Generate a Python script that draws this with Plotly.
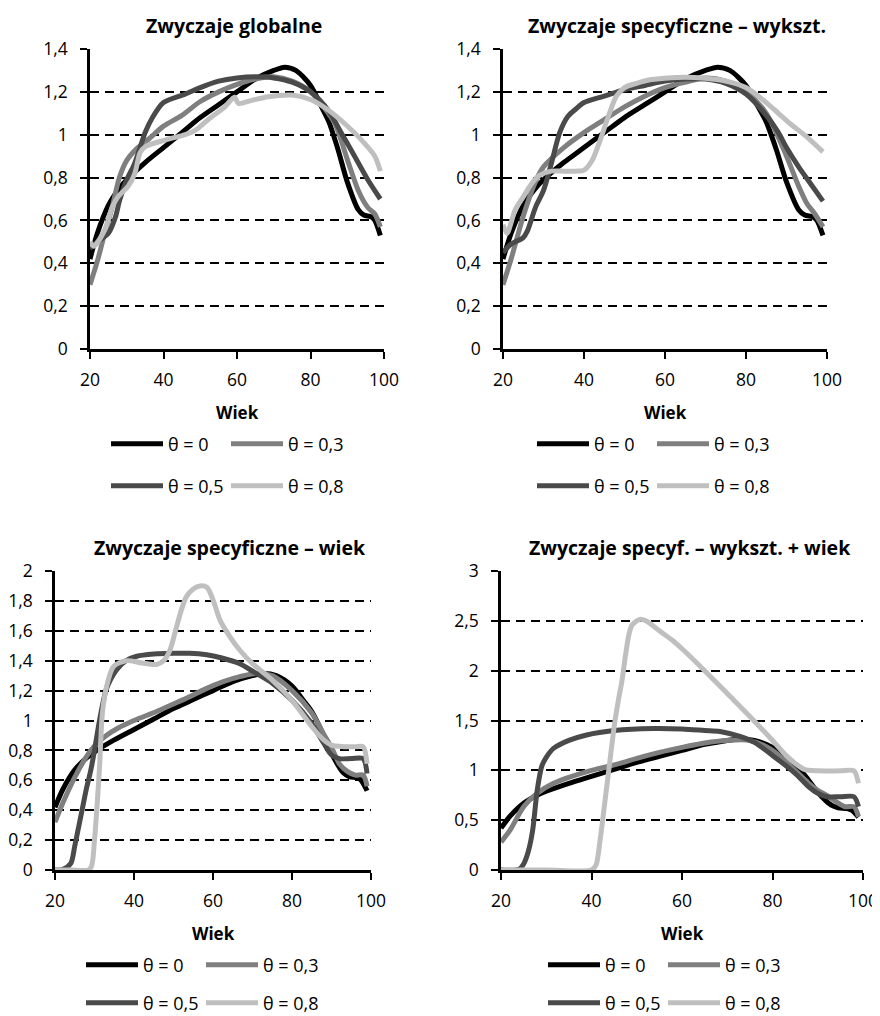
import plotly.graph_objects as go

# ---------------- data ----------------
series_names = ["θ = 0", "θ = 0,3", "θ = 0,5", "θ = 0,8"]
series_colors = ["#000000", "#7f7f7f", "#4a4a4a", "#bfbfbf"]

x_ticks = [20, 40, 60, 80, 100]

# theta = 0 (identical in all panels)
t0_x = [20, 22, 25, 28, 30, 35, 40, 45, 50, 55, 60, 65, 70, 73, 76, 80, 83, 85, 87.5, 90, 93, 94.5, 96.5, 97.5, 99]
t0_y = [0.42, 0.54, 0.67, 0.75, 0.79, 0.87, 0.94, 1.01, 1.08, 1.14, 1.20, 1.26, 1.30, 1.315, 1.30, 1.23, 1.13, 1.06, 0.93, 0.78, 0.65, 0.625, 0.617, 0.60, 0.53]

# Panel 1: Zwyczaje globalne
p1_t3_x = [20, 22, 24, 26, 28, 30, 33, 36, 40, 45, 50, 55, 60, 65, 70, 75, 80, 84, 86.7, 90.3, 93, 95.6, 97.5, 99]
p1_t3_y = [0.30, 0.41, 0.54, 0.66, 0.80, 0.88, 0.94, 0.98, 1.04, 1.09, 1.155, 1.20, 1.235, 1.26, 1.27, 1.25, 1.20, 1.12, 1.05, 0.87, 0.74, 0.66, 0.63, 0.57]
p1_t5_x = [20, 22, 25, 27, 28, 30, 32, 34, 35, 37, 40, 46, 50, 55, 60, 65, 70, 75, 80, 85, 88, 90, 92, 95.6, 99]
p1_t5_y = [0.47, 0.50, 0.54, 0.62, 0.69, 0.79, 0.86, 0.96, 1.01, 1.08, 1.15, 1.19, 1.22, 1.25, 1.265, 1.27, 1.265, 1.245, 1.20, 1.11, 1.02, 0.96, 0.90, 0.79, 0.70]
p1_t8_x = [20, 21, 24, 26, 27.6, 30.4, 32.2, 33.6, 35, 40.4, 45.9, 48.6, 52.1, 56.7, 59.3, 60.4, 64, 68.5, 74.9, 80.3, 84.8, 89.4, 93.9, 97.5, 99]
p1_t8_y = [0.50, 0.48, 0.555, 0.66, 0.71, 0.76, 0.82, 0.915, 0.944, 0.975, 1.00, 1.02, 1.07, 1.13, 1.175, 1.146, 1.16, 1.177, 1.185, 1.162, 1.115, 1.05, 0.975, 0.90, 0.83]

# Panel 2: Zwyczaje specyficzne - wykszt.
p2_t3_x = [20, 22, 25, 28, 30, 35, 40, 45, 50, 55, 60, 65, 70, 75, 80, 85, 90, 93, 95, 97, 99]
p2_t3_y = [0.30, 0.42, 0.62, 0.78, 0.85, 0.94, 1.01, 1.07, 1.13, 1.18, 1.22, 1.245, 1.265, 1.25, 1.20, 1.10, 0.90, 0.76, 0.68, 0.63, 0.57]
p2_t5_x = [20, 22, 25, 26, 28, 30, 32, 34, 36, 38, 40, 45, 50, 55, 60, 65, 70, 75, 80, 85, 88, 90, 93, 96, 99]
p2_t5_y = [0.45, 0.49, 0.52, 0.55, 0.66, 0.74, 0.87, 1.01, 1.085, 1.12, 1.15, 1.18, 1.21, 1.23, 1.25, 1.26, 1.26, 1.24, 1.19, 1.09, 1.01, 0.94, 0.85, 0.77, 0.69]
p2_t8_x = [20, 21, 22, 23, 25, 27, 29, 32, 35, 38, 40, 42, 44, 46, 48, 50, 53, 56, 60, 65, 70, 75, 80, 85, 88, 91, 95, 99]
p2_t8_y = [0.58, 0.54, 0.59, 0.65, 0.71, 0.77, 0.81, 0.83, 0.83, 0.83, 0.835, 0.88, 0.975, 1.085, 1.18, 1.22, 1.24, 1.255, 1.263, 1.268, 1.263, 1.25, 1.22, 1.15, 1.10, 1.05, 0.99, 0.92]

# Panel 3: Zwyczaje specyficzne - wiek
p3_t3_x = [20, 22, 25, 28, 30, 33, 36, 40, 45.7, 50, 54.2, 58, 62.6, 67, 71, 75, 80, 85, 88, 90, 92, 94, 96, 98, 99]
p3_t3_y = [0.32, 0.45, 0.62, 0.76, 0.83, 0.90, 0.95, 1.00, 1.06, 1.11, 1.16, 1.21, 1.26, 1.295, 1.315, 1.30, 1.20, 1.05, 0.91, 0.82, 0.71, 0.66, 0.635, 0.635, 0.56]
p3_t5_x = [20, 22, 24, 25, 26, 27, 28, 29, 30, 31, 32, 33, 35.6, 38, 40.7, 45, 50, 54, 58.4, 62, 66.8, 70, 75, 80, 85, 88, 90, 92, 95, 98, 99]
p3_t5_y = [0.0, 0.005, 0.045, 0.16, 0.29, 0.42, 0.55, 0.66, 0.80, 0.96, 1.10, 1.21, 1.34, 1.40, 1.43, 1.445, 1.45, 1.45, 1.44, 1.42, 1.38, 1.33, 1.25, 1.135, 0.98, 0.85, 0.77, 0.745, 0.745, 0.745, 0.645]
p3_t8_x = [20, 24, 28.5, 29.3, 30, 30.7, 31.3, 32, 33, 34.8, 38, 42, 45.7, 47.5, 49.1, 50.5, 52, 53.3, 55, 56.7, 58.5, 60.1, 61.8, 64.3, 66.8, 70, 75, 80, 85, 88, 90, 93, 96, 98, 99]
p3_t8_y = [0.0, 0.0, 0.0, 0.03, 0.20, 0.45, 0.70, 1.05, 1.22, 1.36, 1.40, 1.385, 1.375, 1.40, 1.47, 1.60, 1.74, 1.83, 1.88, 1.90, 1.89, 1.80, 1.67, 1.56, 1.47, 1.38, 1.27, 1.135, 0.96, 0.87, 0.835, 0.825, 0.825, 0.825, 0.71]

# Panel 4: Zwyczaje specyf. - wykszt. + wiek
p4_t3_x = [20, 22, 25, 28, 31.6, 35, 40, 46.3, 50, 55, 61, 65, 69.9, 75, 80, 85, 88, 90, 92, 94, 96, 98, 99]
p4_t3_y = [0.28, 0.40, 0.635, 0.77, 0.87, 0.93, 1.00, 1.07, 1.12, 1.18, 1.24, 1.275, 1.30, 1.30, 1.20, 1.00, 0.87, 0.80, 0.75, 0.685, 0.635, 0.635, 0.535]
p4_t5_x = [20, 24, 25, 26, 27, 28, 29, 30, 31.6, 35, 38.9, 45, 53.7, 60, 65, 68.4, 72.8, 76, 80, 85, 88, 90, 92, 95, 98, 99]
p4_t5_y = [0.0, 0.007, 0.06, 0.18, 0.40, 0.80, 1.04, 1.13, 1.22, 1.30, 1.355, 1.40, 1.42, 1.415, 1.40, 1.39, 1.34, 1.28, 1.15, 0.97, 0.835, 0.77, 0.735, 0.735, 0.735, 0.635]
p4_t8_x = [20, 30, 40, 41, 41.9, 43, 44, 45.2, 46, 46.7, 47.5, 48.3, 49, 50.7, 52, 55, 58, 60, 65, 70, 75, 80, 83, 85, 87, 90, 95, 98, 99]
p4_t8_y = [0.0, 0.0, 0.0, 0.05, 0.30, 0.70, 1.07, 1.50, 1.72, 1.89, 2.15, 2.37, 2.46, 2.515, 2.50, 2.40, 2.30, 2.22, 2.00, 1.77, 1.54, 1.30, 1.15, 1.07, 1.01, 0.995, 0.995, 0.995, 0.87]

panel_titles = ["Zwyczaje globalne", "Zwyczaje specyficzne – wykszt.",
                "Zwyczaje specyficzne – wiek", "Zwyczaje specyf. – wykszt. + wiek"]
x_title = "Wiek"

p12_yticks = [0, 0.2, 0.4, 0.6, 0.8, 1.0, 1.2, 1.4]
p12_ytext = ["0", "0,2", "0,4", "0,6", "0,8", "1", "1,2", "1,4"]
p3_yticks = [0, 0.2, 0.4, 0.6, 0.8, 1.0, 1.2, 1.4, 1.6, 1.8, 2.0]
p3_ytext = ["0", "0,2", "0,4", "0,6", "0,8", "1", "1,2", "1,4", "1,6", "1,8", "2"]
p4_yticks = [0, 0.5, 1.0, 1.5, 2.0, 2.5, 3.0]
p4_ytext = ["0", "0,5", "1", "1,5", "2", "2,5", "3"]

panels = [
    [(t0_x, t0_y), (p1_t3_x, p1_t3_y), (p1_t5_x, p1_t5_y), (p1_t8_x, p1_t8_y)],
    [(t0_x, t0_y), (p2_t3_x, p2_t3_y), (p2_t5_x, p2_t5_y), (p2_t8_x, p2_t8_y)],
    [(t0_x, t0_y), (p3_t3_x, p3_t3_y), (p3_t5_x, p3_t5_y), (p3_t8_x, p3_t8_y)],
    [(t0_x, t0_y), (p4_t3_x, p4_t3_y), (p4_t5_x, p4_t5_y), (p4_t8_x, p4_t8_y)],
]
yaxis_specs = [(p12_yticks, p12_ytext, 1.4), (p12_yticks, p12_ytext, 1.4),
               (p3_yticks, p3_ytext, 2.0), (p4_yticks, p4_ytext, 3.0)]

# ---------------- layout geometry (page pixels) ----------------
PAGE_W, PAGE_H = 880, 1016
OFF = 8                      # default body margin of the html page
W, H = PAGE_W - OFF, PAGE_H - OFF
FONT = "Open Sans"
plot_px = [  # (left, right, top(value max), bottom(value 0))
    (90, 384, 49, 349),
    (503, 827, 49, 349),
    (55, 371, 571, 870),
    (501, 863, 571, 870),
]
title_px = [(234, 25), (677, 25), (230, 547), (690, 547)]
xlabel_px = [(237, 412), (665, 412), (213, 933), (682, 933)]
legend_rows_px = [  # (x of first legend line, y) per row
    [(112, 444), (112, 486)],
    [(538, 444), (538, 486)],
    [(87, 965), (87, 1003)],
    [(549, 965), (549, 1003)],
]

def px_x(p):
    return (p - OFF) / W

def px_y(p):
    return 1 - (p - OFF) / H

fig = go.Figure()
layout = dict(
    width=W, height=H, margin=dict(l=0, r=0, t=0, b=0, pad=0, autoexpand=False),
    paper_bgcolor="white", plot_bgcolor="white",
    font=dict(family=FONT, size=17, color="black"),
    showlegend=True,
)
annotations = []

for i, series in enumerate(panels):
    n = i + 1
    xa = "x" if n == 1 else f"x{n}"
    ya = "y" if n == 1 else f"y{n}"
    for j, (xs, ys) in enumerate(series):
        leg_idx = i * 2 + (j // 2) + 1
        leg = "legend" if leg_idx == 1 else f"legend{leg_idx}"
        fig.add_trace(go.Scatter(
            x=xs, y=ys, mode="lines", name=series_names[j],
            line=dict(color=series_colors[j], width=5, shape="spline", smoothing=0.8),
            xaxis=xa, yaxis=ya, legend=leg,
        ))
    l, r, t, b = plot_px[i]
    tv, tt, ymax = yaxis_specs[i]
    layout["xaxis" if n == 1 else f"xaxis{n}"] = dict(
        domain=[px_x(l), px_x(r)], anchor=ya, range=[20, 100],
        tickvals=x_ticks, ticktext=[str(v) for v in x_ticks],
        showgrid=False, zeroline=False, showline=True, linecolor="black", linewidth=2.5,
        ticks="outside", ticklen=7, tickwidth=2, tickcolor="black", ticklabelstandoff=6,
        tickfont=dict(size=17.5, family=FONT), fixedrange=True, layer="below traces",
    )
    layout["yaxis" if n == 1 else f"yaxis{n}"] = dict(
        domain=[px_y(b), px_y(t)], anchor=xa, range=[0, ymax],
        tickvals=tv, ticktext=tt,
        showgrid=True, gridcolor="black", gridwidth=1.5, griddash="9px,6px",
        zeroline=False, showline=True, linecolor="black", linewidth=2.5,
        ticks="outside", ticklen=7, tickwidth=2, tickcolor="black", ticklabelstandoff=9,
        tickfont=dict(size=17.5, family=FONT), fixedrange=True, layer="below traces",
    )
    tx, ty = title_px[i]
    annotations.append(dict(
        text=f"<b>{panel_titles[i]}</b>", x=px_x(tx), y=px_y(ty), xref="paper", yref="paper",
        xanchor="center", yanchor="middle", showarrow=False,
        font=dict(size=19.5, family=FONT, color="black"),
    ))
    wx, wy = xlabel_px[i]
    annotations.append(dict(
        text=f"<b>{x_title}</b>", x=px_x(wx), y=px_y(wy), xref="paper", yref="paper",
        xanchor="center", yanchor="middle", showarrow=False,
        font=dict(size=17, family=FONT, color="black"),
    ))
    for k, (lx, ly) in enumerate(legend_rows_px[i]):
        leg_idx = i * 2 + k + 1
        key = "legend" if leg_idx == 1 else f"legend{leg_idx}"
        layout[key] = dict(
            orientation="h", x=px_x(lx - 6), y=px_y(ly), xanchor="left", yanchor="middle",
            bgcolor="rgba(0,0,0,0)", borderwidth=0, itemwidth=52,
            entrywidth=53, entrywidthmode="pixels",
            font=dict(size=18, family=FONT, color="black"),
            traceorder="normal", itemclick=False, itemdoubleclick=False,
        )

layout["annotations"] = annotations
fig.update_layout(**layout)
fig.write_html("out.html", config={"displayModeBar": False})
